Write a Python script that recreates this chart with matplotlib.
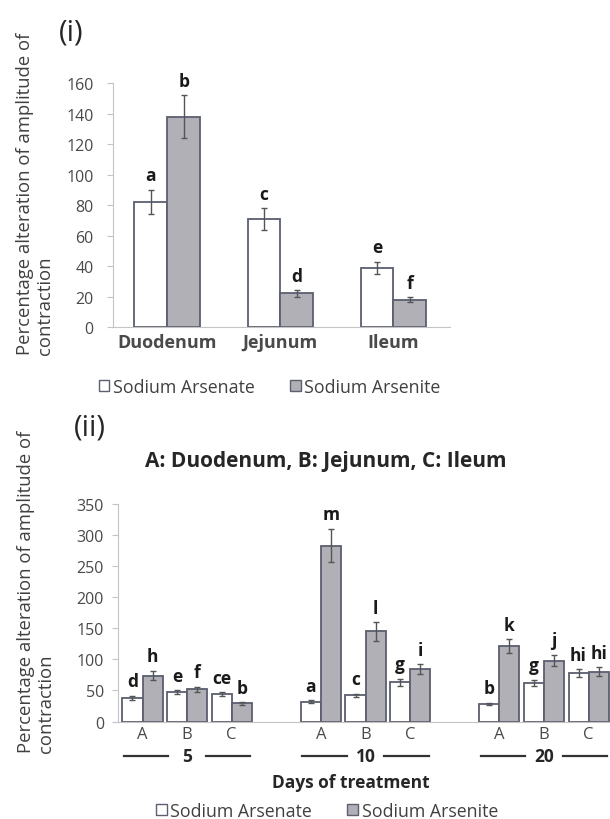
import numpy as np
import matplotlib
matplotlib.use('Agg')
import matplotlib.pyplot as plt
from matplotlib.patches import Patch
from matplotlib.transforms import blended_transform_factory

plt.rcParams['font.family'] = ['Open Sans', 'DejaVu Sans']

# panel (i): overall effect per organ
organs = ['Duodenum', 'Jejunum', 'Ileum']
arsenate_i = [82, 71, 39]
arsenate_i_err = [8, 7, 4]
arsenite_i = [138, 22, 18]
arsenite_i_err = [14, 2, 1.5]
letters_arsenate_i = ['a', 'c', 'e']
letters_arsenite_i = ['b', 'd', 'f']

# panel (ii): by days of treatment
days = ['5', '10', '20']
segments = ['A', 'B', 'C']
arsenate_ii = [38, 47, 44, 32, 42, 63, 28, 62, 78]
arsenate_ii_err = [3, 3, 3, 2, 3, 6, 2, 5, 6]
arsenite_ii = [74, 52, 29, 283, 145, 84, 121, 98, 80]
arsenite_ii_err = [8, 4, 2, 27, 15, 8, 11, 9, 7]
letters_arsenate_ii = ['d', 'e', 'ce', 'a', 'c', 'g', 'b', 'g', 'hi']
letters_arsenite_ii = ['h', 'f', 'b', 'm', 'l', 'i', 'k', 'j', 'hi']

legend_names = ['Sodium Arsenate', 'Sodium Arsenite']
ylabel = 'Percentage alteration of amplitude of\ncontraction'

EDGE = '#5b5f6e'
GRAY = '#b0b0b6'
AXIS = '#c4c4c4'
TICK = '#4a4a4a'

fig = plt.figure(figsize=(6.1, 8.2), dpi=100)


def style_axis(ax):
  for s in ['top', 'right']:
    ax.spines[s].set_visible(False)
  ax.spines['left'].set_color(AXIS)
  ax.spines['bottom'].set_color(AXIS)
  ax.tick_params(axis='y', colors=AXIS, labelcolor=TICK, length=4, labelsize=11.5)
  ax.tick_params(axis='x', length=0, labelcolor=TICK)


def put_letters(ax, xs, vals, errs, letters):
  for x, v, e, t in zip(xs, vals, errs, letters):
    ax.annotate(t, (x, v + e), xytext=(0, 4), textcoords='offset points',
                ha='center', va='bottom', fontsize=12.5, fontweight='bold',
                color='#1a1a1a', annotation_clip=False)


def add_legend(ax, xc, yc):
  ax.legend([Patch(facecolor='white', edgecolor=EDGE), Patch(facecolor=GRAY, edgecolor=EDGE)],
            legend_names, loc='center', bbox_to_anchor=(xc, yc),
            bbox_transform=fig.transFigure, ncol=2, frameon=False, fontsize=12.8,
            handlelength=0.6, handleheight=0.6, handletextpad=0.2, columnspacing=2.0,
            labelcolor='#404040')


# ---------- panel (i) ----------
ax1 = fig.add_axes([0.1852, 0.6, 0.5525, 0.2972])
x1 = np.arange(len(organs))
w1 = 0.29
ax1.bar(x1 - w1 / 2, arsenate_i, w1, color='white', edgecolor=EDGE, lw=1.3,
        yerr=arsenate_i_err, error_kw=dict(ecolor='#555555', lw=1, capsize=2.5))
ax1.bar(x1 + w1 / 2, arsenite_i, w1, color=GRAY, edgecolor=EDGE, lw=1.3,
        yerr=arsenite_i_err, error_kw=dict(ecolor='#555555', lw=1, capsize=2.5))
put_letters(ax1, x1 - w1 / 2, arsenate_i, arsenate_i_err, letters_arsenate_i)
put_letters(ax1, x1 + w1 / 2, arsenite_i, arsenite_i_err, letters_arsenite_i)
ax1.set_xlim(-0.48, 2.5)
ax1.set_ylim(0, 160)
ax1.set_yticks(range(0, 161, 20))
ax1.set_xticks(x1)
ax1.set_xticklabels(organs, fontsize=13, fontweight='bold', color='#262626')
style_axis(ax1)
ax1.tick_params(axis='y', pad=10)
ax1.tick_params(axis='x', pad=4)
add_legend(ax1, 0.442, 0.527)

fig.text(0.116, 0.96, '(i)', fontsize=21, ha='center', va='center', color='#262626')
fig.text(0.057, 0.567, ylabel, rotation=90, ha='center', va='bottom',
         multialignment='left', fontsize=13.3, color='#404040', linespacing=1.15)

# ---------- panel (ii) ----------
ax2 = fig.add_axes([0.1934, 0.1189, 0.8066, 0.2652])
group_off = np.array([0, 4, 8])
x2 = (group_off[:, None] + np.arange(len(segments))[None, :]).ravel()
w2 = 0.45
ax2.bar(x2 - w2 / 2, arsenate_ii, w2, color='white', edgecolor=EDGE, lw=1.3,
        yerr=arsenate_ii_err, error_kw=dict(ecolor='#555555', lw=1, capsize=2))
ax2.bar(x2 + w2 / 2, arsenite_ii, w2, color=GRAY, edgecolor=EDGE, lw=1.3,
        yerr=arsenite_ii_err, error_kw=dict(ecolor='#555555', lw=1, capsize=2))
put_letters(ax2, x2 - w2 / 2, arsenate_ii, arsenate_ii_err, letters_arsenate_ii)
put_letters(ax2, x2 + w2 / 2, arsenite_ii, arsenite_ii_err, letters_arsenite_ii)
ax2.set_xlim(-0.55, 10.48)
ax2.set_ylim(0, 350)
ax2.set_yticks(range(0, 351, 50))
ax2.set_xticks(x2)
ax2.set_xticklabels(segments * len(days), fontsize=12)
style_axis(ax2)
ax2.tick_params(axis='y', pad=6)
ax2.tick_params(axis='x', pad=3)

# day group labels with lines
tr = blended_transform_factory(ax2.transData, fig.transFigure)
yg = 1 - 757 / 820
for g, d in zip(group_off, days):
  for a, b in [(g - 0.42, g + 0.58), (g + 1.42, g + 2.42)]:
    ax2.plot([a, b], [yg, yg], color='#333333', lw=1.6, transform=tr, clip_on=False)
  ax2.text(g + 1, yg, d, transform=tr, ha='center', va='center',
           fontsize=12.5, fontweight='bold', color='#262626')

fig.text(0.575, 0.045, 'Days of treatment', fontsize=12.5, fontweight='bold',
         ha='center', va='center', color='#262626')
fig.text(0.534, 0.437, 'A: Duodenum, B: Jejunum, C: Ileum', fontsize=15,
         fontweight='bold', ha='center', va='center', color='#262626')
fig.text(0.148, 0.478, '(ii)', fontsize=21, ha='center', va='center', color='#262626')
fig.text(0.059, 0.0817, ylabel, rotation=90, ha='center', va='bottom',
         multialignment='left', fontsize=13.3, color='#404040', linespacing=1.15)
add_legend(ax2, 0.536, 0.0098)

fig.savefig('out.png', dpi=100)
